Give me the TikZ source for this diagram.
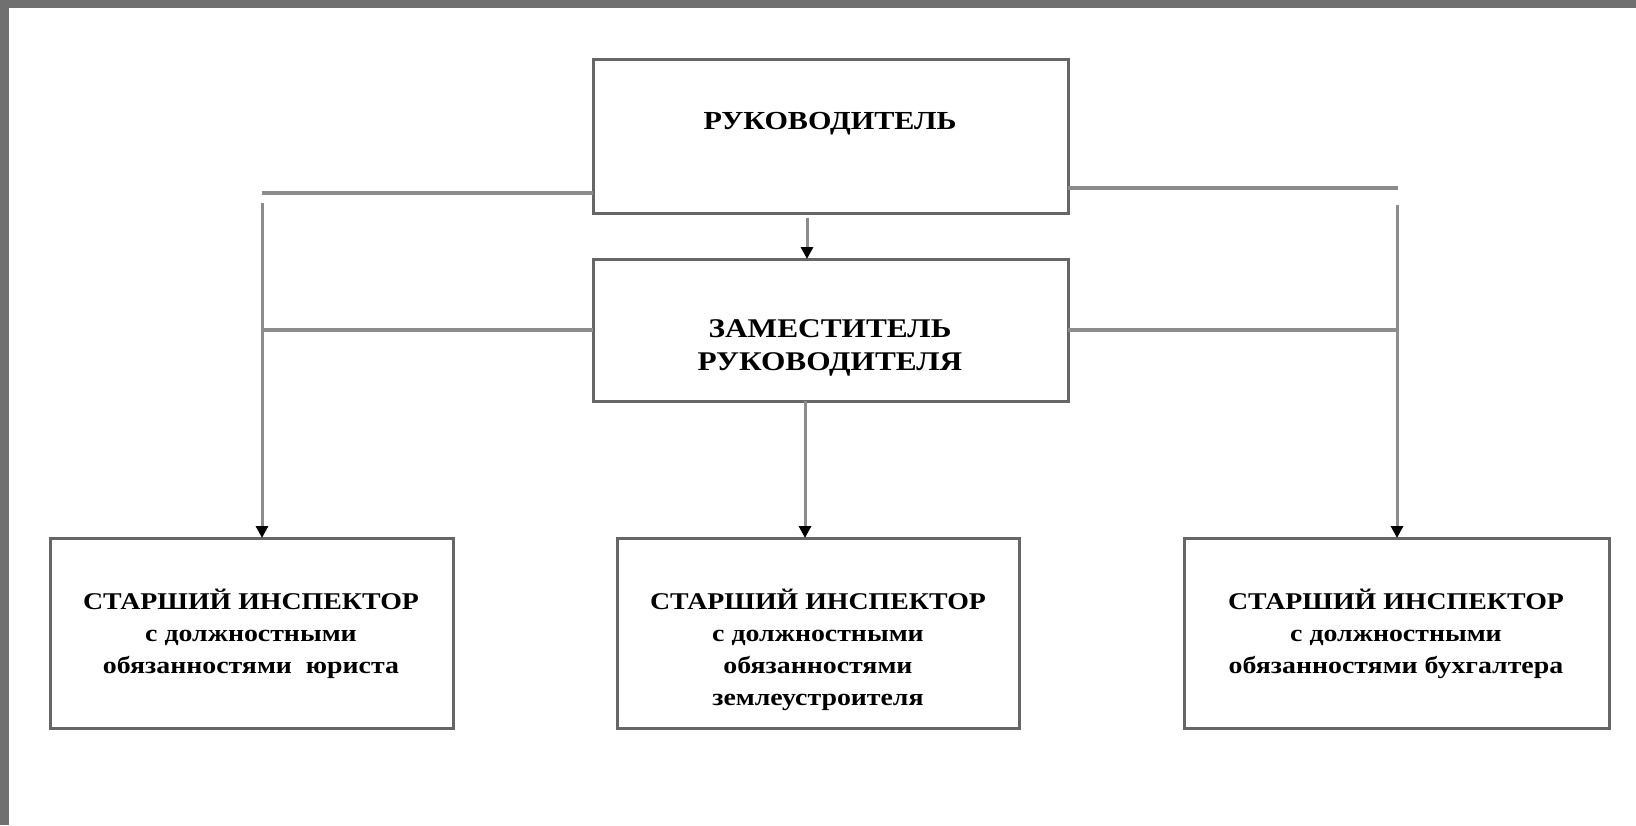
\documentclass[tikz,border=0pt]{standalone}
\usepackage{fontspec}
\setmainfont{Liberation Serif}[FakeStretch=1.16]
\usetikzlibrary{arrows.meta}
\definecolor{frame}{HTML}{707070}
\definecolor{bordergray}{HTML}{666666}
\definecolor{linegray}{HTML}{8C8C8C}
\tikzset{
  box/.style={draw=bordergray, line width=3pt, fill=white, inner sep=0pt, outer sep=0pt},
  conn/.style={draw=linegray, line width=3.2pt},
  arr/.style={draw=linegray, line width=3pt, -{Triangle[length=12pt,width=12pt,fill=black,color=black]}},
  bigtxt/.style={font=\bfseries\fontsize{27}{33}\selectfont, align=center, inner sep=0pt},
  smtxt/.style={font=\bfseries\fontsize{24}{32}\selectfont, align=center, inner sep=0pt},
}
\begin{document}
\begin{tikzpicture}[x=1pt,y=-1pt]
\useasboundingbox (0,0) rectangle (1636,825);
\fill[frame] (0,0) rectangle (1636,825);
\fill[white] (9,8) rectangle (1636,825);
% boxes
\node[box, minimum width=475pt, minimum height=154pt] (ruk) at (830.5,136) {};
\node[box, minimum width=475pt, minimum height=142pt] (zam) at (830.5,330) {};
\node[box, minimum width=403pt, minimum height=190pt] (b1) at (251.5,633) {};
\node[box, minimum width=402pt, minimum height=190pt] (b2) at (818,633) {};
\node[box, minimum width=425pt, minimum height=190pt] (b3) at (1396.5,633) {};
% texts (anchor base = baseline of the last line)
\node[bigtxt, font=\bfseries\fontsize{26}{33}\selectfont, anchor=base] (t1) at (830,129) {РУКОВОДИТЕЛЬ};
\node[bigtxt, anchor=base] (t2) at (830,370) {ЗАМЕСТИТЕЛЬ\\РУКОВОДИТЕЛЯ};
\node[smtxt, anchor=base] (t3) at (251,673) {СТАРШИЙ ИНСПЕКТОР\\с должностными\\обязанностями\ \ юриста};
\node[smtxt, anchor=base] (t4) at (818,705) {СТАРШИЙ ИНСПЕКТОР\\с должностными\\обязанностями\\землеустроителя};
\node[smtxt, anchor=base] (t5) at (1396,673) {СТАРШИЙ ИНСПЕКТОР\\с должностными\\обязанностями бухгалтера};
% connector points
\coordinate (rukW) at (593,193);
\coordinate (rukE) at (1068,188);
\coordinate (rukS) at (807,218);
\coordinate (zamN) at (807,259);
\coordinate (zamS) at (805,401);
\coordinate (lt) at (262,193);
\coordinate (lv) at (262,203);
\coordinate (lm) at (262,330);
\coordinate (rt) at (1398,188);
\coordinate (rv) at (1397,205);
\coordinate (rm) at (1397,330);
% connectors
\draw[conn] (rukW) -- (lt);
\draw[conn] (rukE) -- (rt);
\draw[conn] (zam.west) -- (lm);
\draw[conn] (zam.east) -- (rm);
\draw[arr] (lv) -- (lv |- b1.north);
\draw[arr] (rv) -- (rv |- b3.north);
\draw[arr] (rukS) -- (zamN);
\draw[arr] (zamS) -- (zamS |- b2.north);
\end{tikzpicture}
\end{document}
